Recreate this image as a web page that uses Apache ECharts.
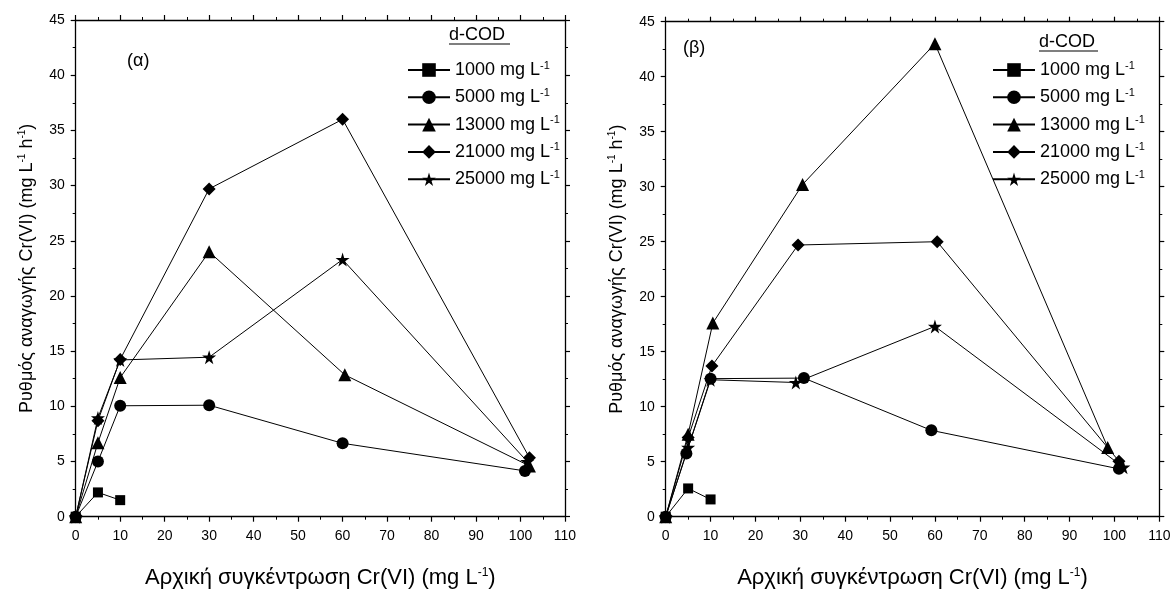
<!DOCTYPE html>
<html><head><meta charset="utf-8">
<script src="https://cdn.jsdelivr.net/npm/echarts@6/dist/echarts.min.js"></script>
<style>html,body{margin:0;padding:0;background:#fff}#c{width:1172px;height:589px}</style>
</head><body><div id="c"></div>
<script>
// ---- data ----
const seriesNames = ['1000', '5000', '13000', '21000', '25000'];
const xTicks = [0,10,20,30,40,50,60,70,80,90,100,110];
const yTicks = [0,5,10,15,20,25,30,35,40,45];
// panel (α)
const a1000  = [[0,0],[5,2.2],[10,1.5]];
const a5000  = [[0,0],[5,5.0],[10,10.05],[30,10.1],[60,6.65],[101,4.15]];
const a13000 = [[0,0],[5,6.7],[10,12.6],[30,24.0],[60.5,12.85],[102,4.6]];
const a21000 = [[0,0],[5,8.7],[10,14.25],[30,29.7],[60,36.0],[102,5.35]];
const a25000 = [[0,0],[5,8.95],[10,14.2],[30,14.45],[60,23.3],[101.5,5.0]];
// panel (β)
const b1000  = [[0,0],[5,2.57],[10,1.57]];
const b5000  = [[0,0],[4.6,5.75],[10,12.55],[30.8,12.6],[59.2,7.85],[101,4.35]];
const b13000 = [[0,0],[5,7.5],[10.5,17.6],[30.5,30.2],[60,43.0],[98.5,6.3]];
const b21000 = [[0,0],[5,7.2],[10.3,13.7],[29.5,24.7],[60.5,25.0],[101,5.05]];
const b25000 = [[0,0],[5,6.3],[10,12.45],[29,12.2],[60,17.3],[102,4.5]];

const panelA = [a1000, a5000, a13000, a21000, a25000];
const panelB = [b1000, b5000, b13000, b21000, b25000];

const STAR = 'path://M50,0 L61,35 L98,35 L68,57 L79,91 L50,70 L21,91 L32,57 L2,35 L39,35 Z';
const symbols = ['rect', 'circle', 'triangle', 'diamond', STAR];
const symSizes = [10, 12, 13, 13, 14];

const FONT = 'Liberation Sans, Arial, sans-serif';
const sup = {fontSize: 12, fontFamily: FONT, color: '#000', verticalAlign: 'top', padding: [0,0,8,0]};

function xAx(grid, pos, labels) {
  return {
    type: 'value', gridIndex: grid, position: pos, min: 0, max: 110, interval: 10,
    axisLine: {show: true, onZero: false, lineStyle: {color: '#000', width: 1.3}},
    axisTick: {show: true, inside: false, length: 5, lineStyle: {color: '#000', width: 1.2}},
    minorTick: {show: true, splitNumber: 2, length: 3, lineStyle: {color: '#000', width: 1}},
    splitLine: {show: false},
    axisLabel: {show: labels, color: '#000', fontSize: 14, fontFamily: FONT, margin: 12,
      formatter: v => xTicks.includes(v) ? String(v) : ''},
    name: labels ? 'Αρχική συγκέντρωση Cr(VI) (mg L{s|-1})' : '',
    nameLocation: 'middle', nameGap: 50,
    nameTextStyle: {color: '#000', fontSize: 22, fontFamily: FONT, rich: {s: sup}}
  };
}
function yAx(grid, pos, labels) {
  return {
    type: 'value', gridIndex: grid, position: pos, min: 0, max: 45, interval: 5,
    axisLine: {show: true, onZero: false, lineStyle: {color: '#000', width: 1.3}},
    axisTick: {show: true, inside: false, length: 5, lineStyle: {color: '#000', width: 1.2}},
    minorTick: {show: true, splitNumber: 2, length: 3, lineStyle: {color: '#000', width: 1}},
    splitLine: {show: false},
    axisLabel: {show: labels, color: '#000', fontSize: 14, fontFamily: FONT, margin: 11,
      formatter: v => yTicks.includes(v) ? String(v) : ''},
    name: labels ? 'Ρυθμός αναγωγής Cr(VI) (mg L{s|-1} h{s|-1})' : '',
    nameLocation: 'middle', nameGap: 40, nameRotate: 90,
    nameTextStyle: {color: '#000', fontSize: 18, fontFamily: FONT, rich: {s: {fontSize: 10, fontFamily: FONT, color: '#000', verticalAlign: 'top', padding: [0,0,7,0]}}}
  };
}

const series = [];
[panelA, panelB].forEach((panel, p) => {
  panel.forEach((d, i) => {
    series.push({
      type: 'line', name: seriesNames[i], xAxisIndex: p*2, yAxisIndex: p*2,
      data: d, symbol: symbols[i], symbolSize: symSizes[i], showAllSymbol: true,
      lineStyle: {color: '#000', width: 1}, itemStyle: {color: '#000'},
      z: 3, animation: false
    });
  });
});

function legend(left, top) {
  return {
    orient: 'vertical', left: left, top: top, padding: 0, itemWidth: 42, itemHeight: 17, itemGap: 7.3,
    data: seriesNames.map(n => ({name: n})),
    selectedMode: false,
    textStyle: {color: '#000', fontSize: 18, fontFamily: FONT, lineHeight: 20,
      rich: {s: {fontSize: 11, fontFamily: FONT, color: '#000', verticalAlign: 'top', lineHeight: 12, padding: [0,0,4,0]}}},
    formatter: n => n + ' mg L{s|-1}'
  };
}

const option = {
  backgroundColor: '#fff',
  animation: false,
  grid: [
    {left: 75.7, right: 1172 - 565, top: 20, bottom: 589 - 516.7, containLabel: false, outerBoundsMode: 'none'},
    {left: 665.7, right: 1172 - 1159.3, top: 21.7, bottom: 589 - 516.7, containLabel: false, outerBoundsMode: 'none'}
  ],
  xAxis: [xAx(0,'bottom',true), xAx(0,'top',false), xAx(1,'bottom',true), xAx(1,'top',false)],
  yAxis: [yAx(0,'left',true), yAx(0,'right',false), yAx(1,'left',true), yAx(1,'right',false)],
  legend: [legend(407, 60), legend(992, 60)],
  series: series,
  graphic: [
    {type: 'text', left: 127, top: 52, style: {text: '(α)', fontSize: 18, fontFamily: FONT, fill: '#000'}},
    {type: 'text', left: 683, top: 39, style: {text: '(β)', fontSize: 18, fontFamily: FONT, fill: '#000'}},
    {type: 'text', left: 449, top: 26, style: {text: 'd-COD', fontSize: 18, fontFamily: FONT, fill: '#000'}},
    {type: 'line', shape: {x1: 449, y1: 44, x2: 510, y2: 44}, style: {stroke: '#000', lineWidth: 1.2}},
    {type: 'text', left: 1039, top: 33, style: {text: 'd-COD', fontSize: 18, fontFamily: FONT, fill: '#000'}},
    {type: 'line', shape: {x1: 1039, y1: 51, x2: 1098, y2: 51}, style: {stroke: '#000', lineWidth: 1.2}}
  ]
};
echarts.init(document.getElementById('c'), null, {renderer: 'canvas'}).setOption(option);
</script></body></html>
